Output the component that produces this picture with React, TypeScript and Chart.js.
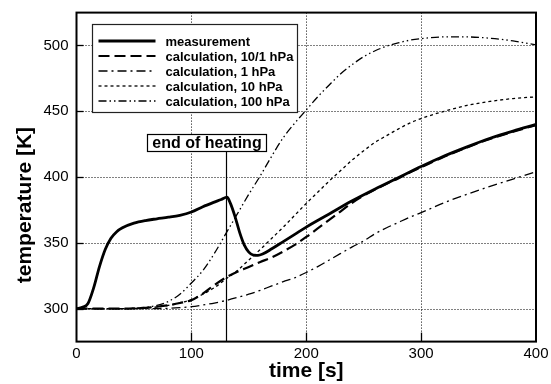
import React, { useEffect, useRef } from 'react';
import { Chart, registerables } from 'chart.js';

Chart.register(...registerables);

// ---------- data ----------
const measurementTime = [0, 5, 10, 15, 20, 25, 30, 35, 40, 50, 60, 70, 80, 90, 100, 110, 120, 126, 131, 134, 138, 142, 146, 150, 154, 158, 162, 170, 180, 190, 200, 220, 240, 260, 280, 300, 320, 340, 360, 380, 400];
const measurementTemp = [300, 301, 304, 316, 332, 345, 353.5, 358.5, 361.5, 365, 367, 368.3, 369.5, 371, 373.5, 377.5, 381, 383, 384.8, 380, 370, 358, 348.5, 343, 340.7, 340.5, 341.5, 345.5, 351, 356.5, 362, 372, 382, 391, 399.5, 408, 416, 423, 429.5, 435, 440];

const calcTime = [0, 20, 40, 50, 60, 70, 80, 90, 100, 110, 120, 130, 140, 150, 160, 170, 180, 190, 200, 210, 220, 230, 240, 250, 260, 270, 280, 290, 300, 320, 340, 360, 380, 400];
const calc10to1hPa = [300, 300, 300, 300.2, 300.7, 301.5, 302.6, 304.3, 306.5, 311.5, 318, 323.7, 328, 331.7, 335.5, 339, 343.5, 348.5, 354.5, 361, 367.5, 374, 380.5, 386, 390.5, 395, 399, 403.5, 407.5, 415.5, 422.5, 429, 434.5, 439.5];
const calc1hPa = [300, 300, 300, 300, 300, 300.1, 300.3, 300.8, 301.5, 302.8, 304.3, 306.2, 308.5, 311, 314, 317.3, 320.5, 323.5, 327.5, 332, 337, 342, 347, 351.5, 357, 361.5, 365.5, 369.5, 373, 380.5, 387, 393, 398.5, 404];
const calc10hPa = [300, 300, 300, 300.2, 300.6, 301.3, 302.5, 304.3, 307, 311, 316, 322.5, 329, 337, 345, 353.5, 362, 371, 380, 388.5, 397, 405, 413, 420, 426.5, 431.5, 436.5, 441, 444.5, 450, 454.5, 457.5, 459.7, 461];
const calc100hPa = [300, 300, 300, 300.3, 301, 302.5, 305.5, 311, 319.5, 329, 342, 357, 372, 387, 401, 416, 430, 441, 451, 461, 470, 478.5, 485.5, 491.5, 496, 499.5, 502, 504, 505.2, 506.5, 506.5, 505.5, 503.5, 500.5];

const seriesLabels = [
  'measurement',
  'calculation, 10/1 hPa',
  'calculation, 1 hPa',
  'calculation, 10 hPa',
  'calculation, 100 hPa',
];

const xMin = 0;
const xMax = 400;
const xTickStep = 20;
const xMinorStep = 20;
const xMajorStep = 100;
const yMin = 275;
const yMax = 525;
const yTickStep = 5;
const yMinorStep = 10;
const yMajorStep = 50;

const xTitle = 'time [s]';
const yTitle = 'temperature [K]';

const heatingEnd = 130;
const heatingLabel = 'end of heating';
const heatingLabelX = 113; // data-space anchor (centre of the label box)
const heatingLabelY = 420; // data-space anchor (bottom of the label box)

// ---------- helpers ----------
const FONT = '"Liberation Sans", Arial, Helvetica, sans-serif';

const toPoints = (xs: number[], ys: number[]) => xs.map((x, i) => ({ x, y: ys[i] }));
const isMultiple = (v: number, step: number) => Math.abs(v / step - Math.round(v / step)) < 1e-6;

const decorPlugin = {
  id: 'decor',
  beforeDatasetsDraw(chart: any) {
    const { ctx, chartArea: ca, scales } = chart;
    const xs = scales.x;
    const ys = scales.y;
    ctx.save();
    ctx.strokeStyle = '#000';
    ctx.lineWidth = 1;
    ctx.setLineDash([1, 2]);
    xs.ticks.forEach((t: any) => {
      if (isMultiple(t.value, xMajorStep) && t.value > xMin && t.value < xMax) {
        const px = Math.round(xs.getPixelForValue(t.value)) + 0.5;
        ctx.beginPath();
        ctx.moveTo(px, ca.top);
        ctx.lineTo(px, ca.bottom);
        ctx.stroke();
      }
    });
    ys.ticks.forEach((t: any) => {
      if (isMultiple(t.value, yMajorStep) && t.value > yMin && t.value < yMax) {
        const py = Math.round(ys.getPixelForValue(t.value)) + 0.5;
        ctx.beginPath();
        ctx.moveTo(ca.left, py);
        ctx.lineTo(ca.right, py);
        ctx.stroke();
      }
    });
    ctx.restore();
  },
  afterDatasetsDraw(chart: any) {
    const { ctx, chartArea: ca, scales } = chart;
    const xs = scales.x;
    const ys = scales.y;
    ctx.save();
    ctx.setLineDash([]);
    ctx.strokeStyle = '#000';
    ctx.fillStyle = '#000';

    // end-of-heating marker
    ctx.font = `bold 16px ${FONT}`;
    const hx = Math.round(xs.getPixelForValue(heatingEnd)) + 0.5;
    const boxBottom = Math.round(ys.getPixelForValue(heatingLabelY)) + 0.5;
    const boxCx = xs.getPixelForValue(heatingLabelX);
    const tw = ctx.measureText(heatingLabel).width;
    const bw = Math.round(tw + 10);
    const bh = 17;
    const bx = Math.round(boxCx - bw / 2) + 0.5;
    ctx.lineWidth = 1.2;
    ctx.beginPath();
    ctx.moveTo(hx, ca.bottom);
    ctx.lineTo(hx, boxBottom);
    ctx.stroke();
    ctx.fillStyle = '#fff';
    ctx.fillRect(bx, boxBottom - bh, bw, bh);
    ctx.strokeRect(bx, boxBottom - bh, bw, bh);
    ctx.fillStyle = '#000';
    ctx.textAlign = 'center';
    ctx.textBaseline = 'middle';
    ctx.fillText(heatingLabel, bx + bw / 2, boxBottom - bh / 2 + 1);

    // tick marks (inward)
    ctx.lineWidth = 1.3;
    xs.ticks.forEach((t: any) => {
      if (t.value <= xMin || t.value >= xMax) return;
      if (!isMultiple(t.value, xMinorStep)) return;
      const px = Math.round(xs.getPixelForValue(t.value)) + 0.5;
      const len = isMultiple(t.value, xMajorStep) ? 9 : 4;
      ctx.beginPath();
      ctx.moveTo(px, ca.bottom);
      ctx.lineTo(px, ca.bottom - len);
      ctx.stroke();
    });
    ys.ticks.forEach((t: any) => {
      if (t.value <= yMin || t.value >= yMax) return;
      if (!isMultiple(t.value, yMinorStep)) return;
      const py = Math.round(ys.getPixelForValue(t.value)) + 0.5;
      const len = isMultiple(t.value, yMajorStep) ? 7 : 4;
      ctx.beginPath();
      ctx.moveTo(ca.left, py);
      ctx.lineTo(ca.left + len, py);
      ctx.stroke();
    });

    // frame
    ctx.lineWidth = 2;
    ctx.strokeRect(ca.left, ca.top, ca.right - ca.left, ca.bottom - ca.top);

    // legend
    const lx = Math.round(ca.left + 15) + 0.5;
    const ly = Math.round(ca.top + 11) + 0.5;
    const lw = 205;
    const lh = 88;
    ctx.fillStyle = '#fff';
    ctx.fillRect(lx, ly, lw, lh);
    ctx.lineWidth = 1.2;
    ctx.strokeStyle = '#222';
    ctx.strokeRect(lx, ly, lw, lh);
    ctx.font = `bold 13px ${FONT}`;
    ctx.textAlign = 'left';
    ctx.textBaseline = 'middle';
    chart.data.datasets.forEach((ds: any, i: number) => {
      const ry = Math.round(ly + 16 + i * 15);
      ctx.save();
      ctx.strokeStyle = '#000';
      ctx.lineWidth = ds.borderWidth;
      ctx.setLineDash(ds.borderDash || []);
      ctx.beginPath();
      ctx.moveTo(lx + 6, ry);
      ctx.lineTo(lx + 63, ry);
      ctx.stroke();
      ctx.restore();
      ctx.fillStyle = '#000';
      ctx.fillText(ds.label, lx + 73, ry + 1);
    });

    // y-axis title
    ctx.save();
    ctx.font = `bold 21px ${FONT}`;
    ctx.fillStyle = '#000';
    ctx.textAlign = 'center';
    ctx.textBaseline = 'middle';
    ctx.translate(25, (ca.top + ca.bottom) / 2 + 28);
    ctx.rotate(-Math.PI / 2);
    ctx.fillText(yTitle, 0, 0);
    ctx.restore();

    ctx.restore();
  },
};

export default function App() {
  const canvasRef = useRef<HTMLCanvasElement | null>(null);

  useEffect(() => {
    const canvas = canvasRef.current;
    if (!canvas) return;
    const common = { pointRadius: 0, borderColor: '#000', backgroundColor: '#000', fill: false, cubicInterpolationMode: 'monotone' as const };
    const chart = new Chart(canvas, {
      type: 'line',
      data: {
        datasets: [
          { ...common, label: seriesLabels[0], data: toPoints(measurementTime, measurementTemp), borderWidth: 2.8, borderDash: [] },
          { ...common, label: seriesLabels[1], data: toPoints(calcTime, calc10to1hPa), borderWidth: 2.2, borderDash: [11, 5] },
          { ...common, label: seriesLabels[2], data: toPoints(calcTime, calc1hPa), borderWidth: 1.3, borderDash: [9, 4, 2, 4] },
          { ...common, label: seriesLabels[3], data: toPoints(calcTime, calc10hPa), borderWidth: 1.3, borderDash: [3, 3] },
          { ...common, label: seriesLabels[4], data: toPoints(calcTime, calc100hPa), borderWidth: 1.3, borderDash: [8, 3, 1.5, 3, 1.5, 3] },
        ],
      },
      options: {
        responsive: false,
        animation: false,
        events: [],
        layout: { padding: { left: 0, right: 15, top: 12.6, bottom: 0 } },
        plugins: { legend: { display: false }, tooltip: { enabled: false } },
        scales: {
          x: {
            type: 'linear',
            min: xMin,
            max: xMax,
            grid: { display: false, drawTicks: false },
            border: { display: false },
            ticks: {
              stepSize: xTickStep,
              autoSkip: false,
              maxRotation: 0,
              padding: 3,
              color: '#000',
              font: { family: FONT, size: 15 },
              callback: (v: any) => (isMultiple(Number(v), xMajorStep) ? String(Math.round(Number(v))) : null),
            },
            title: {
              display: true,
              text: xTitle,
              color: '#000',
              font: { family: FONT, size: 21, weight: 'bold' },
              padding: { top: 0, bottom: 0 },
            },
            afterFit: (s: any) => {
              s.height = 42.4;
              s.paddingLeft = 0;
              s.paddingRight = 0;
            },
          },
          y: {
            type: 'linear',
            min: yMin,
            max: yMax,
            grid: { display: false, drawTicks: false },
            border: { display: false },
            ticks: {
              stepSize: yTickStep,
              autoSkip: false,
              padding: 8,
              color: '#000',
              font: { family: FONT, size: 15 },
              callback: (v: any) => (isMultiple(Number(v), yMajorStep) ? String(Math.round(Number(v))) : null),
            },
            afterFit: (s: any) => {
              s.width = 76.5;
              s.paddingTop = 0;
              s.paddingBottom = 0;
            },
          },
        },
      },
      plugins: [decorPlugin],
    } as any);
    return () => chart.destroy();
  }, []);

  return (
    <div style={{ position: 'fixed', left: 0, top: 0, width: 551, height: 384, background: '#fff' }}>
      <canvas ref={canvasRef} width={551} height={384} style={{ display: 'block', width: 551, height: 384 }} />
    </div>
  );
}
